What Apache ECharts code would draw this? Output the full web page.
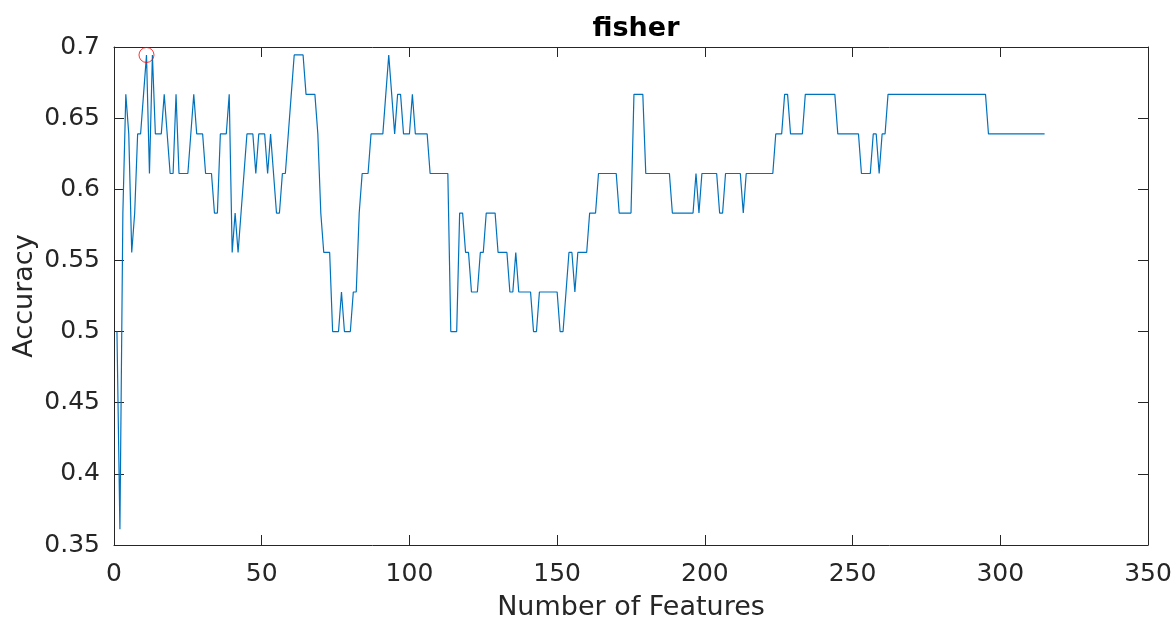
<!DOCTYPE html>
<html>
<head>
<meta charset="utf-8">
<title>fisher</title>
<script src="https://cdn.jsdelivr.net/npm/echarts@6/dist/echarts.min.js"></script>
<style>
  html, body { margin: 0; padding: 0; background: #ffffff; }
  #chart { width: 1172px; height: 619px; }
</style>
</head>
<body>
<div id="chart"></div>
<script>
// Accuracy for feature subsets of size 1..315 (fisher ranking)
const accuracy = [
  0.5000, 0.3611, 0.5833, 0.6667, 0.6389, 0.5556, 0.5833, 0.6389, 0.6389, 0.6667,
  0.6944, 0.6111, 0.6944, 0.6389, 0.6389, 0.6389, 0.6667, 0.6389, 0.6111, 0.6111,
  0.6667, 0.6111, 0.6111, 0.6111, 0.6111, 0.6389, 0.6667, 0.6389, 0.6389, 0.6389,
  0.6111, 0.6111, 0.6111, 0.5833, 0.5833, 0.6389, 0.6389, 0.6389, 0.6667, 0.5556,
  0.5833, 0.5556, 0.5833, 0.6111, 0.6389, 0.6389, 0.6389, 0.6111, 0.6389, 0.6389,
  0.6389, 0.6111, 0.6389, 0.6111, 0.5833, 0.5833, 0.6111, 0.6111, 0.6389, 0.6667,
  0.6944, 0.6944, 0.6944, 0.6944, 0.6667, 0.6667, 0.6667, 0.6667, 0.6389, 0.5833,
  0.5556, 0.5556, 0.5556, 0.5000, 0.5000, 0.5000, 0.5278, 0.5000, 0.5000, 0.5000,
  0.5278, 0.5278, 0.5833, 0.6111, 0.6111, 0.6111, 0.6389, 0.6389, 0.6389, 0.6389,
  0.6389, 0.6667, 0.6944, 0.6667, 0.6389, 0.6667, 0.6667, 0.6389, 0.6389, 0.6389,
  0.6667, 0.6389, 0.6389, 0.6389, 0.6389, 0.6389, 0.6111, 0.6111, 0.6111, 0.6111,
  0.6111, 0.6111, 0.6111, 0.5000, 0.5000, 0.5000, 0.5833, 0.5833, 0.5556, 0.5556,
  0.5278, 0.5278, 0.5278, 0.5556, 0.5556, 0.5833, 0.5833, 0.5833, 0.5833, 0.5556,
  0.5556, 0.5556, 0.5556, 0.5278, 0.5278, 0.5556, 0.5278, 0.5278, 0.5278, 0.5278,
  0.5278, 0.5000, 0.5000, 0.5278, 0.5278, 0.5278, 0.5278, 0.5278, 0.5278, 0.5278,
  0.5000, 0.5000, 0.5278, 0.5556, 0.5556, 0.5278, 0.5556, 0.5556, 0.5556, 0.5556,
  0.5833, 0.5833, 0.5833, 0.6111, 0.6111, 0.6111, 0.6111, 0.6111, 0.6111, 0.6111,
  0.5833, 0.5833, 0.5833, 0.5833, 0.5833, 0.6667, 0.6667, 0.6667, 0.6667, 0.6111,
  0.6111, 0.6111, 0.6111, 0.6111, 0.6111, 0.6111, 0.6111, 0.6111, 0.5833, 0.5833,
  0.5833, 0.5833, 0.5833, 0.5833, 0.5833, 0.5833, 0.6111, 0.5833, 0.6111, 0.6111,
  0.6111, 0.6111, 0.6111, 0.6111, 0.5833, 0.5833, 0.6111, 0.6111, 0.6111, 0.6111,
  0.6111, 0.6111, 0.5833, 0.6111, 0.6111, 0.6111, 0.6111, 0.6111, 0.6111, 0.6111,
  0.6111, 0.6111, 0.6111, 0.6389, 0.6389, 0.6389, 0.6667, 0.6667, 0.6389, 0.6389,
  0.6389, 0.6389, 0.6389, 0.6667, 0.6667, 0.6667, 0.6667, 0.6667, 0.6667, 0.6667,
  0.6667, 0.6667, 0.6667, 0.6667, 0.6389, 0.6389, 0.6389, 0.6389, 0.6389, 0.6389,
  0.6389, 0.6389, 0.6111, 0.6111, 0.6111, 0.6111, 0.6389, 0.6389, 0.6111, 0.6389,
  0.6389, 0.6667, 0.6667, 0.6667, 0.6667, 0.6667, 0.6667, 0.6667, 0.6667, 0.6667,
  0.6667, 0.6667, 0.6667, 0.6667, 0.6667, 0.6667, 0.6667, 0.6667, 0.6667, 0.6667,
  0.6667, 0.6667, 0.6667, 0.6667, 0.6667, 0.6667, 0.6667, 0.6667, 0.6667, 0.6667,
  0.6667, 0.6667, 0.6667, 0.6667, 0.6667, 0.6389, 0.6389, 0.6389, 0.6389, 0.6389,
  0.6389, 0.6389, 0.6389, 0.6389, 0.6389, 0.6389, 0.6389, 0.6389, 0.6389, 0.6389,
  0.6389, 0.6389, 0.6389, 0.6389, 0.6389
];

// Best subset size and its accuracy (circled)
const bestFeatures = 11;
const bestAccuracy = 0.6944;

// Axis ranges and ticks
const xRange = [0, 350];
const xStep = 50;
const yRange = [0.35, 0.7];
const yStep = 0.05;

const chartTitle = 'fisher';
const xTitle = 'Number of Features';
const yTitle = 'Accuracy';

const axisColor = '#262626';
const fontFamily = '"DejaVu Sans", sans-serif';

const gridLeft = 114, gridRight = 24;
const chartWidth = 1172;
const plotCenterX = gridLeft + (chartWidth - gridLeft - gridRight) / 2;

const lineData = accuracy.map((v, i) => [i + 1, v]);

const chart = echarts.init(document.getElementById('chart'), null, { renderer: 'canvas' });

const baseAxis = {
  axisLine: { show: true, onZero: false, lineStyle: { color: axisColor, width: 1 } },
  axisTick: { show: true, inside: true, length: 10, lineStyle: { color: axisColor, width: 1 } },
  splitLine: { show: false }
};

chart.setOption({
  animation: false,
  backgroundColor: '#ffffff',
  title: {
    text: chartTitle,
    left: plotCenterX,
    textAlign: 'center',
    top: 10,
    textStyle: { fontFamily, fontSize: 27, fontWeight: 'bold', color: '#000000', lineHeight: 28 }
  },
  grid: {
    left: gridLeft, right: gridRight, top: 47, bottom: 74,
    containLabel: false, outerBoundsMode: 'none'
  },
  xAxis: [
    Object.assign({}, baseAxis, {
      type: 'value', position: 'bottom',
      min: xRange[0], max: xRange[1], interval: xStep,
      name: xTitle, nameLocation: 'middle', nameGap: 49,
      nameTextStyle: { fontFamily, fontSize: 27, color: axisColor },
      axisLabel: { margin: 17, fontFamily, fontSize: 25, color: axisColor }
    }),
    Object.assign({}, baseAxis, {
      type: 'value', position: 'top',
      min: xRange[0], max: xRange[1], interval: xStep,
      axisLabel: { show: false }
    })
  ],
  yAxis: [
    Object.assign({}, baseAxis, {
      type: 'value', position: 'left',
      min: yRange[0], max: yRange[1], interval: yStep,
      name: yTitle, nameLocation: 'middle', nameGap: 76, nameRotate: 90,
      nameMoveOverlap: false,
      nameTextStyle: { fontFamily, fontSize: 27, color: axisColor },
      axisLabel: {
        margin: 14, fontFamily, fontSize: 25, color: axisColor,
        formatter: v => String(+v.toFixed(2))
      }
    }),
    Object.assign({}, baseAxis, {
      type: 'value', position: 'right',
      min: yRange[0], max: yRange[1], interval: yStep,
      axisLabel: { show: false }
    })
  ],
  series: [
    {
      type: 'line',
      data: lineData,
      showSymbol: false,
      symbol: 'none',
      lineStyle: { color: '#0072BD', width: 1.2 },
      z: 2
    },
    {
      type: 'scatter',
      data: [[bestFeatures, bestAccuracy]],
      symbol: 'circle',
      symbolSize: 15,
      itemStyle: { color: 'rgba(0,0,0,0)', borderColor: '#FF0000', borderWidth: 1 },
      z: 3
    }
  ]
});
</script>
</body>
</html>
